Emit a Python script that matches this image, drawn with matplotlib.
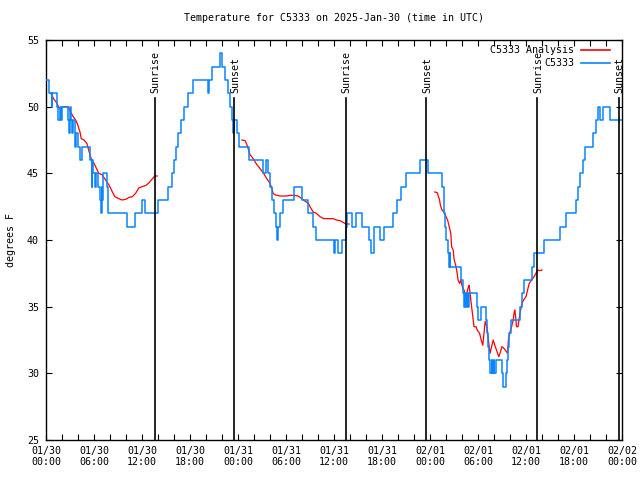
import numpy as np
import matplotlib
matplotlib.use("Agg")
import matplotlib.pyplot as plt
from matplotlib.lines import Line2D

# ---------------- data ----------------
title = "Temperature for C5333 on 2025-Jan-30 (time in UTC)"
ylabel = "degrees F"
tick_hours = [0, 6, 12, 18, 24, 30, 36, 42, 48, 54, 60, 66, 72]
tick_labels = ["01/30\n00:00", "01/30\n06:00", "01/30\n12:00", "01/30\n18:00",
               "01/31\n00:00", "01/31\n06:00", "01/31\n12:00", "01/31\n18:00",
               "02/01\n00:00", "02/01\n06:00", "02/01\n12:00", "02/01\n18:00",
               "02/02\n00:00"]

sun_hours = [13.58, 23.52, 37.45, 47.56, 61.42, 71.59]
sun_labels = ["Sunrise", "Sunset", "Sunrise", "Sunset", "Sunrise", "Sunset"]

# observations (step changes: hour since 01/30 00:00 UTC, temperature F)
obs_hours = [0.0, 0.4, 0.7, 0.8, 1.35, 1.55, 1.75, 1.85, 2.0, 2.7, 2.85, 3.0, 3.15, 3.25,
             3.4, 3.6, 3.8, 4.0, 4.25, 4.5, 5.5, 5.7, 5.8, 5.9, 6.1, 6.3, 6.5, 6.7, 6.85,
             6.95, 7.05, 7.15, 7.6, 7.75, 10.1, 11.1, 12.0, 12.4, 14.0, 15.3, 15.8, 16.0,
             16.3, 16.55, 16.85, 17.2, 17.8, 18.4, 20.2, 20.4, 20.7, 21.75, 22.0, 22.4,
             22.8, 23.0, 23.2, 23.4, 23.55, 23.9, 24.1, 25.4, 27.1, 27.5, 27.8, 28.0,
             28.2, 28.45, 28.7, 28.85, 28.95, 29.2, 29.6, 31.0, 32.0, 32.8, 33.35, 33.8,
             35.95, 36.1, 36.5, 37.0, 37.5, 37.65, 38.2, 38.8, 39.5, 40.4, 40.6, 41.0,
             41.8, 42.2, 43.4, 43.9, 44.4, 45.0, 46.7, 47.8, 49.5, 49.7, 49.8, 49.9,
             50.0, 50.2, 50.35, 50.45, 50.55, 51.9, 52.1, 52.3, 52.4, 52.5, 52.6, 52.75,
             52.9, 53.9, 54.05, 54.35, 54.95, 55.1, 55.2, 55.35, 55.5, 55.7, 55.8,
             55.95, 56.05, 56.2, 57.05, 57.1, 57.5, 57.6, 57.7, 57.85, 58.1, 59.25,
             59.5, 59.7, 60.8, 60.95, 62.25, 64.2, 65.0, 66.2, 66.5, 66.8, 67.1, 67.4,
             68.4, 68.75, 69.0, 69.3, 69.6, 70.5, 72.0]
obs_temps = [52, 51, 50, 51, 50, 49, 50, 49, 50, 49, 48, 50, 49, 48,
             49, 47, 48, 47, 46, 47, 46, 44, 46, 45, 44, 45, 44, 43, 42,
             44, 43, 45, 44, 42, 41, 42, 43, 42, 43, 44, 45, 46,
             47, 48, 49, 50, 51, 52, 51, 52, 53, 54, 53, 52,
             51, 50, 49, 48, 49, 48, 47, 46, 45, 46, 45, 44,
             43, 42, 41, 40, 41, 42, 43, 44, 43, 42, 41, 40,
             39, 40, 39, 40, 41, 42, 41, 42, 41, 40, 39, 41,
             40, 41, 42, 43, 44, 45, 46, 45, 44, 43, 42, 41,
             40, 39, 38, 39, 38, 37, 36, 35, 36, 35, 36, 35,
             36, 35, 34, 35, 34, 33, 32, 31, 30, 31, 30,
             31, 30, 31, 30, 29, 30, 31, 32, 33, 34, 35,
             36, 37, 38, 39, 40, 41, 42, 43, 44, 45, 46, 47,
             48, 49, 50, 49, 50, 49, 49]

# analysis (NaN separates the three segments)
ana_hours = [0.6, 1.0, 1.4, 1.6, 2.25, 2.75, 3.08, 3.4, 3.7, 3.9, 4.25, 4.4, 4.75, 5.1,
             5.4, 5.7, 6.0, 6.2, 6.6, 7.0, 7.45, 7.9, 8.3, 8.6, 9.1, 9.5, 9.96, 10.4,
             10.8, 11.2, 11.6, 12.0, 12.5, 12.9, 13.3, 13.6, 13.9,
             np.nan,
             24.5, 24.9, 25.2, 25.5, 25.9, 26.3, 26.7, 27.2, 27.6, 28.0, 28.2, 28.4,
             28.6, 29.25, 30.1, 30.5, 31.0, 31.5, 32.0, 32.4, 32.8, 33.0, 33.4, 33.8,
             34.25, 34.7, 35.3, 35.9, 36.3, 36.75, 37.2, 37.5, 37.9,
             np.nan,
             48.6, 48.9, 49.2, 49.3, 49.5, 49.75, 50.0, 50.2, 50.4, 50.6, 50.7, 50.9,
             51.0, 51.25, 51.4, 51.5, 51.7, 51.85, 52.0, 52.1, 52.25, 52.4, 52.6, 52.8,
             52.9, 53.1, 53.3, 53.5, 53.75, 53.9, 54.2, 54.4, 54.6, 54.75, 54.9, 55.1,
             55.3, 55.5, 55.7, 55.9, 56.1, 56.3, 56.6, 56.75, 57.0, 57.2, 57.4, 57.7,
             57.8, 58.0, 58.2, 58.4, 58.5, 58.6, 58.75, 58.8, 59.0, 59.25, 59.5, 59.7,
             60.0, 60.2, 60.4, 60.7, 61.0, 61.25, 61.4, 61.7, 62.0]
ana_temps = [51.0, 50.55, 50.25, 49.9, 50.0, 50.0, 49.6, 49.25, 49.0, 48.75, 48.1, 47.6,
             47.5, 47.25, 46.6, 46.0, 45.75, 45.5, 45.0, 44.9, 44.5, 44.1, 43.6, 43.25,
             43.1, 43.0, 43.05, 43.2, 43.25, 43.5, 43.9, 44.0, 44.1, 44.3, 44.6, 44.8,
             44.8,
             np.nan,
             47.5, 47.45, 47.0, 46.4, 46.1, 45.7, 45.4, 45.0, 44.6, 44.25, 43.9, 43.5,
             43.4, 43.3, 43.3, 43.35, 43.35, 43.3, 43.1, 42.9, 42.75, 42.5, 42.1, 42.0,
             41.75, 41.6, 41.6, 41.6, 41.5, 41.45, 41.3, 41.2, 41.2,
             np.nan,
             43.6, 43.55, 43.0, 42.6, 42.25, 42.1, 41.75, 41.5, 41.0, 40.5, 39.5, 39.25,
             38.6, 38.0, 37.5, 37.0, 36.75, 37.0, 36.6, 36.4, 36.25, 35.9, 36.0, 36.5,
             36.6, 35.5, 34.5, 33.5, 33.5, 33.25, 33.0, 32.5, 32.1, 33.0, 33.9, 33.5,
             32.5, 31.5, 32.0, 32.5, 32.1, 31.75, 31.25, 31.5, 32.0, 31.9, 31.75, 31.5,
             32.5, 33.1, 33.5, 34.0, 34.5, 34.75, 34.0, 33.5, 33.5, 34.5, 35.25, 35.5,
             35.75, 36.25, 36.75, 37.0, 37.25, 37.5, 37.75, 37.7, 37.75]

y_ticks = [25, 30, 35, 40, 45, 50, 55]
legend_labels = ["C5333 Analysis", "C5333"]
red = "#ff0000"
blue = "#0a84ff"

# ---------------- plot ----------------
plt.rcParams['font.family'] = ['DejaVu Sans Mono']
plt.rcParams['font.size'] = 7.2

fig = plt.figure(figsize=(6.4, 4.8), dpi=100)
ax = fig.add_axes([46/640, 1-440/480, 576/640, 400/480])

ax.plot(ana_hours, ana_temps, color=red, lw=0.9, zorder=3)
ax.step(obs_hours, obs_temps, where='post', color=blue, lw=1.1, zorder=4)

for h, lab in zip(sun_hours, sun_labels):
    ax.plot([h, h], [25, 50.65], color='black', lw=1.2, zorder=5)
    ax.text(h + 0.1, 51.0, lab, rotation=90, ha='center', va='bottom',
            fontsize=7.2, clip_on=False, zorder=6)

ax.set_xlim(0, 72)
ax.set_ylim(25, 55)
ax.set_xticks(tick_hours)
ax.set_xticklabels(tick_labels)
ax.set_xticks(np.arange(0, 73, 2), minor=True)
ax.set_yticks(y_ticks)
ax.tick_params(which='both', direction='in', top=True, right=True,
               length=4, width=0.8, pad=4)
ax.tick_params(axis='y', pad=5)
for s in ax.spines.values():
    s.set_linewidth(1.0)

ax.set_title(title, fontsize=7.2, pad=14)
ax.set_ylabel(ylabel, labelpad=8)

# manual legend (text right-aligned, sample line on the right)
for i, (lab, col) in enumerate(zip(legend_labels, [red, blue])):
    yy = 1 - (10 + 13.3 * i) / 400
    ax.text(528/576, yy, lab, transform=ax.transAxes, ha='right', va='center',
            fontsize=7.2, zorder=7)
    ax.add_line(Line2D([535/576, 564/576], [yy, yy], transform=ax.transAxes,
                       color=col, lw=1.2, zorder=7))

fig.savefig("out.png", dpi=100)
